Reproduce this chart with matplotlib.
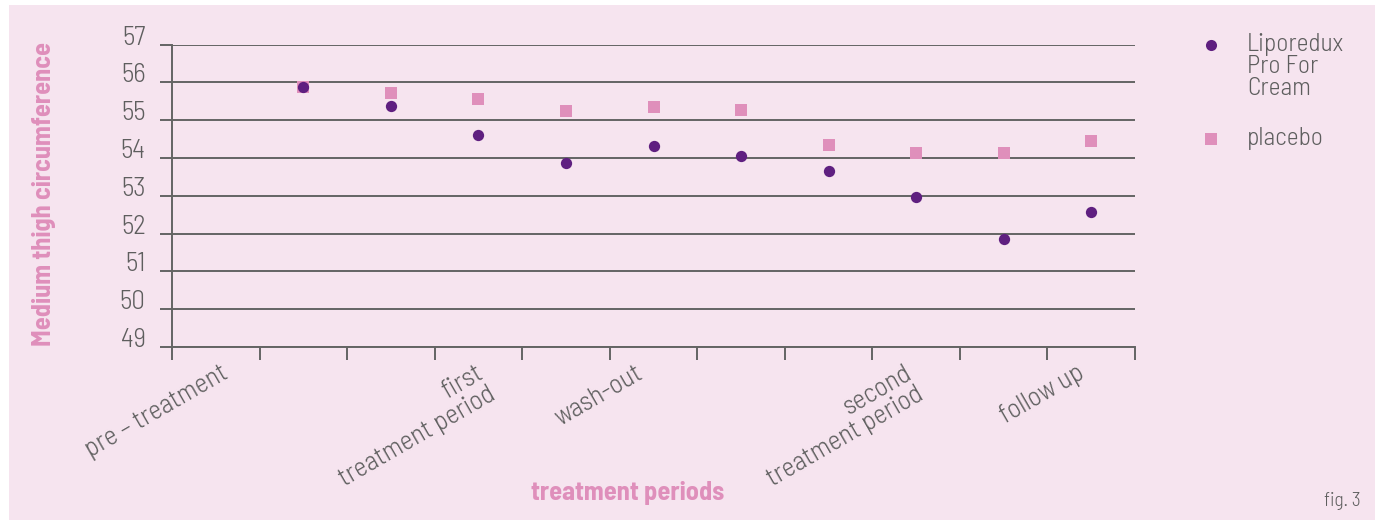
import numpy as np
import matplotlib
matplotlib.use("Agg")
import matplotlib.pyplot as plt
from matplotlib.patches import Rectangle
from matplotlib.lines import Line2D

# category labels along x (one per interval, most intervals unlabelled)
periods = ["pre \u2013 treatment", "", "", "first\ntreatment period", "",
           "wash-out", "", "", "second\ntreatment period", "", "follow up"]
# measurement points sit in intervals 1..10
point_idx = np.arange(1, 11)
lipo = [55.88, 55.38, 54.62, 53.87, 54.32, 54.06, 53.66, 52.97, 51.86, 52.57]
placebo = [55.89, 55.72, 55.56, 55.25, 55.35, 55.27, 54.35, 54.13, 54.13, 54.45]
y_ticks = [49, 50, 51, 52, 53, 54, 55, 56, 57]
series_names = ["Liporedux\nPro For\nCream", "placebo"]

# small nudges (px) of the period labels, as in the original layout
label_dx = [4, 0, 0, -3, 0, -19, 0, 0, -12, 0, -15]

bg = "#f6e4ef"
pink = "#df8fbb"
purple = "#5f1f80"
grey = "#5e5e5e"
line_c = "#646464"
font = "Barlow Semi Condensed"
W, H = 1380, 520

fig = plt.figure(figsize=(13.8, 5.2), dpi=100)
fig.patch.set_facecolor("white")
fig.patches.append(Rectangle((9 / W, 0), (1375 - 9) / W, 515 / H,
                             transform=fig.transFigure, facecolor=bg,
                             edgecolor="none", zorder=-10))

ax = fig.add_axes([172 / W, 173 / H, 963 / W, 302.3 / H])
ax.set_facecolor("none")
ax.set_xlim(0, 11)
ax.set_ylim(49, 57)

for s in ["top", "right"]:
    ax.spines[s].set_visible(False)
for s in ["left", "bottom"]:
    ax.spines[s].set_color(line_c)
    ax.spines[s].set_linewidth(1.4)

ax.set_yticks(y_ticks)
ax.set_yticklabels([str(v) for v in y_ticks], fontfamily=font, fontweight=300,
                   fontsize=19.5, color=grey)
for lab in ax.get_yticklabels():
    lab.set_va("baseline")
ax.tick_params(axis="y", length=9, width=1.4, color=line_c, pad=10)
ax.yaxis.grid(True, color=line_c, linewidth=1.4)
ax.set_axisbelow(True)

ax.set_xticks(np.arange(0, 12))
ax.set_xticklabels([])
ax.tick_params(axis="x", length=9, width=1.4, color=line_c)

for i, lab in enumerate(periods):
    if not lab:
        continue
    ax.annotate(lab, xy=(i + 0.5, 0), xycoords=("data", "axes fraction"),
                xytext=(label_dx[i], -14), textcoords="offset pixels",
                rotation=30, rotation_mode="anchor", ha="right", va="top",
                multialignment="right", fontfamily=font, fontweight=300,
                fontsize=19.5, color=grey, linespacing=1.0)

xs = point_idx + 0.5
ax.scatter(xs, placebo, marker="s", s=78, color=pink, linewidths=0, zorder=3)
ax.scatter(xs, lipo, marker="o", s=66, color=purple, linewidths=0, zorder=4)

# legend, drawn by hand so the marker lines up with the first text line
legend_items = [(series_names[0], "o", purple, 8.0, 45),
                (series_names[1], "s", pink, 8.6, 139)]
for name, mk, col, ms, ypx in legend_items:
    fig.add_artist(Line2D([1211 / W], [1 - ypx / H], marker=mk, color=col,
                          markersize=ms, markeredgewidth=0, linestyle="none",
                          transform=fig.transFigure))
    fig.text(1247 / W, 1 - (ypx - 12) / H, name, ha="left", va="top",
             fontfamily=font, fontweight=300, fontsize=18.3, color=grey,
             linespacing=0.95)

fig.text(44 / W, 1 - 194 / H, "Medium thigh circumference", rotation=90,
         ha="center", va="center", fontfamily=font, fontweight="bold",
         fontsize=19, color=pink)
fig.text(628 / W, 1 - 493 / H, "treatment periods", ha="center",
         va="center", fontfamily=font, fontweight="bold", fontsize=19,
         color=pink)
fig.text(1361 / W, 1 - 501 / H, "fig. 3", ha="right", va="center",
         fontfamily=font, fontweight=300, fontsize=14, color=grey)

fig.savefig("out.png", dpi=100, facecolor=fig.get_facecolor())
